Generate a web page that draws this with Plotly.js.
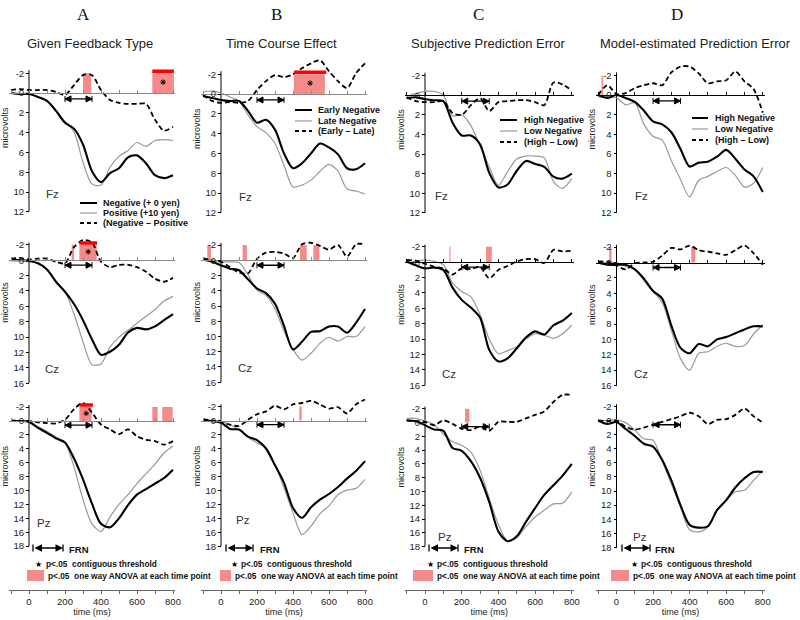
<!DOCTYPE html>
<html><head><meta charset="utf-8">
<script src="https://cdn.plot.ly/plotly-3.0.1.min.js"></script>
<style>html,body{margin:0;padding:0;background:#fff}#chart{width:800px;height:620px}</style>
</head><body><div id="chart"></div>
<script>
// ---------------- DATA ----------------
const times = [-100,-50,0,50,100,150,200,250,300,350,400,450,500,550,600,650,700,750,800];

const columnLetters = ['A','B','C','D'];
const columnTitles = ['Given Feedback Type','Time Course Effect','Subjective Prediction Error','Model-estimated Prediction Error'];
const electrodes = ['Fz','Cz','Pz'];
const legendA = ['Negative (+ 0 yen)','Positive (+10 yen)','(Negative \u2013 Positive'];
const legendB = ['Early Negative','Late Negative','(Early \u2013 Late)'];
const legendC = ['High Negative','Low Negative','(High \u2013 Low)'];
const legendD = ['High Negative','Low Negative','(High \u2013 Low)'];
const frnWindow = [200, 350];
const yTicksFz = [-2,0,2,4,6,8,10,12];
const yTicksCz = [-2,0,2,4,6,8,10,12,14,16];
const yTicksPz = [-2,0,2,4,6,8,10,12,14,16,18];
const timeTickVals = [-100,0,100,200,300,400,500,600,700,800];
const timeTickLabels = ['','0','','200','','400','','600','','800'];

// Column A
const aFzSolid = [0,0.1,0.1,0.4,0.8,1.8,3.0,3.6,5.2,7.9,9.0,8.1,7.6,6.5,6.3,7.1,8.3,8.6,8.3];
const aFzGray  = [0,0.1,0.1,0.4,0.8,1.7,2.9,3.9,7.0,9.2,9.3,7.5,6.4,5.8,5.0,5.4,4.8,4.7,4.8];
const aFzDash  = [-0.3,-0.4,-0.3,-0.3,-0.3,-0.1,0.2,-0.8,-1.8,-1.8,-0.3,0.7,1.0,1.1,1.1,1.1,2.7,3.8,3.4];
const aCzSolid = [0,0,0.1,0.4,1.2,2.8,4.1,5.7,7.8,10.3,12.3,11.9,11.0,9.4,8.8,9.0,8.6,7.8,7.0];
const aCzGray  = [0,0,0.1,0.4,1.2,2.8,4.1,7.0,10.6,13.6,13.5,11.3,10.0,9.1,8.2,7.3,6.4,5.3,4.7];
const aCzDash  = [-0.2,-0.3,-0.1,-0.2,-0.2,0.2,0.4,-1.7,-2.6,-2.3,0.2,0.9,0.6,0.6,0.9,1.5,2.4,2.8,2.3];
const aPzSolid = [0,0,0.1,1.0,1.7,2.5,3.1,5.4,8.4,11.9,14.8,15.3,14.0,12.1,10.6,9.8,9.0,8.2,7.0];
const aPzGray  = [0,0,0.1,0.8,1.5,2.3,3.1,6.6,11.3,14.8,15.9,13.8,12.0,10.6,9.0,7.6,6.2,4.6,3.6];
const aPzDash  = [-0.1,0,0,0.2,0.3,0.35,-0.2,-1.7,-2.6,-1.2,0.5,1.2,1.9,1.2,2.2,2.7,2.9,3.4,2.9];
// Column B
const bFzSolid = [0.2,0.4,0.6,0.7,0.7,1.7,2.9,2.6,3.6,6.0,7.5,7.0,6.0,5.0,5.4,6.1,7.5,7.6,7.0];
const bFzGray  = [-0.2,-0.3,-0.1,0.3,0.7,2.1,3.3,3.9,5.0,7.2,9.4,9.2,8.7,7.8,7.1,7.8,9.6,9.8,10.1];
const bFzDash  = [0.1,0.7,0.9,0.8,0.9,0.7,-0.4,-1.3,-1.9,-1.7,-2.0,-2.6,-3.1,-3.4,-2.3,-1.3,-0.6,-2.1,-3.1];
const bCzSolid = [-0.1,0.2,0.65,1.1,1.3,2.5,3.7,4.3,5.7,8.6,11.7,10.7,9.4,9.3,8.7,8.7,9.5,8.2,6.4];
const bCzGray  = [0,0,0.2,0.2,0.3,1.9,3.9,4.6,6.4,9.3,11.7,13.1,12.2,10.9,10.1,10.6,10.0,10.0,8.7];
const bCzDash  = [-0.3,0,0.2,0.9,1.6,1.7,-0.2,-1.0,-1.1,-0.9,-0.3,-2.1,-2.3,-1.9,-1.4,-2.0,-0.5,-2.1,-2.1];
const bPzSolid = [-0.1,0.1,0.3,1.2,1.3,2.3,2.8,4.0,6.4,8.9,12.5,13.9,12.4,11.3,10.5,9.5,8.3,7.2,5.8];
const bPzGray  = [0,0,0.1,0.6,1.3,2.4,3.2,3.9,6.3,9.6,13.2,16.3,15.1,13.3,12.2,10.6,9.95,9.7,8.4];
const bPzDash  = [-0.2,0,0.3,0.6,0.8,-0.1,-0.9,-1.3,-2.1,-1.6,-2.3,-2.5,-2.8,-2.3,-1.7,-1.9,-1.0,-2.3,-3.0];
// Column C
const cFzSolid = [0.3,0.2,0.4,0.5,0.6,2.8,4.1,4.1,5.0,7.9,9.4,9.1,7.7,6.7,7.0,7.3,8.3,8.5,8.0];
const cFzGray  = [0.1,-0.2,-0.4,-0.4,0.0,2.1,2.0,3.1,5.2,7.3,9.2,7.8,6.5,6.2,6.2,6.4,8.8,9.5,8.5];
const cFzDash  = [0.2,0.6,0.7,0.7,0.6,1.8,2.0,1.0,0.3,1.6,0.7,0.6,0.5,0.5,0.7,1.0,-1.3,-1.1,-0.5];
const cCzSolid = [-0.1,0.4,0.8,0.7,1.0,3.3,4.9,5.9,7.2,11.4,12.9,12.5,11.2,9.8,9.0,9.4,8.2,7.6,6.6];
const cCzGray  = [0.1,-0.1,-0.3,-0.1,0.3,2.7,3.8,4.5,6.8,10.0,11.9,11.5,11.0,10.0,9.3,9.5,9.9,9.3,8.2];
const cCzDash  = [-0.3,-0.2,0.2,0.6,0.8,1.6,0.8,0.9,0.6,2.1,1.0,0.5,-0.1,-0.4,-0.4,0.1,-1.6,-1.4,-1.5];
const cPzSolid = [-0.3,-0.2,0.4,1.0,1.2,3.7,4.1,5.6,8.0,11.5,15.8,17.2,16.5,14.4,12.4,10.5,9.1,7.7,6.0];
const cPzGray  = [-0.6,-0.6,-0.2,0.3,1.7,2.8,3.3,4.3,6.9,11.0,14.8,17.2,16.7,15.1,13.7,12.7,11.8,11.7,10.1];
const cPzDash  = [-0.3,-0.2,-0.1,0.4,-0.3,0.2,0.9,1.1,0.6,1.2,-0.1,-0.1,-0.1,-0.6,-1.1,-1.6,-3.0,-4.0,-4.0];
// Column D
const dFzSolid = [0,0.3,0.0,0.3,0.7,1.6,2.7,3.0,3.8,5.5,7.3,6.9,6.8,6.3,5.6,6.5,7.6,8.3,9.9];
const dFzGray  = [0.2,0.2,0.3,1.0,0.8,3.0,4.2,4.6,6.7,8.6,10.4,8.7,8.3,7.8,7.4,8.2,9.4,9.0,7.4];
const dFzDash  = [0,-1.0,-0.1,-0.2,-0.7,-1.0,-1.2,-1.0,-2.3,-2.9,-2.9,-2.2,-1.2,-1.4,-1.5,-2.4,-1.4,-0.6,1.8];
const dCzSolid = [0,0.3,0.3,0.3,0.9,2.1,3.7,4.7,8.2,11.1,11.8,10.6,10.9,10.0,9.7,9.2,8.7,8.3,8.3];
const dCzGray  = [0,0,0,0.5,0.8,2.4,3.8,5.2,8.8,12.5,14.0,11.8,11.6,10.9,10.5,10.9,10.8,9.3,8.1];
const dCzDash  = [-0.1,-0.1,0.4,0.9,0.1,0.0,-0.1,-0.9,-1.9,-1.7,-2.2,-1.6,-1.4,-1.2,-1.0,-1.6,-2.2,-1.2,0.3];
const dPzSolid = [0,0.5,0.2,1.2,2.2,3.3,3.7,5.6,8.5,12.0,14.8,15.2,15.0,12.7,11.3,9.5,8.2,7.3,7.3];
const dPzGray  = [0,0,-0.1,0.3,1.4,2.6,2.8,5.8,9.0,12.3,15.5,15.8,15.1,12.8,11.3,10.1,9.9,8.5,7.1];
const dPzDash  = [0,0.1,0.0,0.9,1.3,1.0,0.6,0.2,-0.2,-0.6,-1.1,-0.6,0.5,-0.1,-0.2,-0.8,-1.7,-0.6,0.3];

// significance windows (ms): ANOVA each time point (pink) and contiguous threshold (red + star)
const aFzSigStart = [300,685], aFzSigEnd = [345,805], aFzConStart = [685], aFzConEnd = [805];
const aCzSigStart = [237,280], aCzSigEnd = [250,376], aCzConStart = [280], aCzConEnd = [378];
const aPzSigStart = [280,685,740], aPzSigEnd = [348,715,798], aPzConStart = [280], aPzConEnd = [355];
const bFzSigStart = [405], bFzSigEnd = [577], bFzConStart = [405], bFzConEnd = [585];
const bCzSigStart = [-76,120,439,513], bCzSigEnd = [-56,144,476,546];
const bPzSigStart = [435], bPzSigEnd = [448];
const cCzSigStart = [133,333], cCzSigEnd = [139,364];
const cPzSigStart = [218], cPzSigEnd = [242];
const dFzSigStart = [-82], dFzSigEnd = [-74];
const dCzSigStart = [-40,409], dCzSigEnd = [-27,431];
const sigLevel = -2;

// ---------------- LAYOUT GEOMETRY (pixels) ----------------
const W = 800, H = 620;
const NARROW = '"Liberation Sans Narrow","Arial Narrow","Liberation Sans",Arial,sans-serif';
const SANS = '"Liberation Sans",Arial,sans-serif';
const SERIF = '"Liberation Serif","Times New Roman",serif';
const PINK = '#f58a8a';
const colGeom = [{x0:29,s:0.18},{x0:221,s:0.18},{x0:425,s:0.1835},{x0:616.5,s:0.1828}];
const panelY = [[[93,9.9],[260.2,7.69],[421,6.95]],[[94,9.9],[260.3,7.62],[420.5,7.0]],
                [[95.3,9.8],[262.2,7.69],[422.5,6.9]],[[95,9.8],[262.5,7.69],[420.5,7.05]]];
const rowMax = [12,16,18];
const rowTicks = [yTicksFz, yTicksCz, yTicksPz];
const TOP = -5, XMIN = -110, XMAX = 810;
const conLevel = [-2.2,-2.25,-2.3];
const frnLevel = [0.6,0.65,0.6];
const zeroLineColor = ['#888','#888','#000','#000'];
const px2x = p => p / W;
const py2y = p => 1 - p / H;

const E = [];
const panels = [
 {c:0,r:0,s:aFzSolid,g:aFzGray,d:aFzDash,ss:aFzSigStart,se:aFzSigEnd,cs:aFzConStart,ce:aFzConEnd},
 {c:0,r:1,s:aCzSolid,g:aCzGray,d:aCzDash,ss:aCzSigStart,se:aCzSigEnd,cs:aCzConStart,ce:aCzConEnd},
 {c:0,r:2,s:aPzSolid,g:aPzGray,d:aPzDash,ss:aPzSigStart,se:aPzSigEnd,cs:aPzConStart,ce:aPzConEnd},
 {c:1,r:0,s:bFzSolid,g:bFzGray,d:bFzDash,ss:bFzSigStart,se:bFzSigEnd,cs:bFzConStart,ce:bFzConEnd},
 {c:1,r:1,s:bCzSolid,g:bCzGray,d:bCzDash,ss:bCzSigStart,se:bCzSigEnd,cs:E,ce:E},
 {c:1,r:2,s:bPzSolid,g:bPzGray,d:bPzDash,ss:bPzSigStart,se:bPzSigEnd,cs:E,ce:E},
 {c:2,r:0,s:cFzSolid,g:cFzGray,d:cFzDash,ss:E,se:E,cs:E,ce:E},
 {c:2,r:1,s:cCzSolid,g:cCzGray,d:cCzDash,ss:cCzSigStart,se:cCzSigEnd,cs:E,ce:E},
 {c:2,r:2,s:cPzSolid,g:cPzGray,d:cPzDash,ss:cPzSigStart,se:cPzSigEnd,cs:E,ce:E,noZero:true},
 {c:3,r:0,s:dFzSolid,g:dFzGray,d:dFzDash,ss:dFzSigStart,se:dFzSigEnd,cs:E,ce:E},
 {c:3,r:1,s:dCzSolid,g:dCzGray,d:dCzDash,ss:dCzSigStart,se:dCzSigEnd,cs:E,ce:E},
 {c:3,r:2,s:dPzSolid,g:dPzGray,d:dPzDash,ss:E,se:E,cs:E,ce:E,noZero:true}
];

const data = [];
const layout = {
  width: W, height: H, margin:{l:0,r:0,t:0,b:0},
  paper_bgcolor:'#fff', plot_bgcolor:'rgba(0,0,0,0)', showlegend:false,
  hovermode:false, font:{family:SANS, color:'#222'}, shapes:[], annotations:[]
};
const colXDomain = c => [px2x(colGeom[c].x0 + XMIN*colGeom[c].s), px2x(colGeom[c].x0 + XMAX*colGeom[c].s)];

panels.forEach((p, i) => {
  const k = i + 1;
  const xs = k === 1 ? 'x' : 'x' + k, ys = k === 1 ? 'y' : 'y' + k;
  const xn = k === 1 ? 'xaxis' : 'xaxis' + k, yn = k === 1 ? 'yaxis' : 'yaxis' + k;
  const cg = colGeom[p.c];
  const [z, ps] = panelY[p.c][p.r];
  const ymax = rowMax[p.r];
  const zc = zeroLineColor[p.c];
  layout[xn] = {
    domain: colXDomain(p.c), range:[XMIN, XMAX], anchor:'free', position: py2y(z), side:'top',
    showline: !p.noZero, linecolor: zc, linewidth: 1,
    ticks: p.noZero ? '' : 'outside', ticklen: 3, tickcolor: zc,
    tickvals: timeTickVals, showticklabels:false, showgrid:false, zeroline:false
  };
  layout[yn] = {
    domain:[py2y(z + ymax*ps), py2y(z + TOP*ps)], range:[ymax, TOP],
    anchor:'free', position: px2x(cg.x0), side:'left', showline:false,
    ticks:'outside', ticklen:3, tickcolor:'#000', tickwidth:1,
    tickvals: rowTicks[p.r], ticktext: rowTicks[p.r].map(String),
    tickfont:{family:NARROW, size:9.5, color:'#222'},
    title:{text:'microvolts', font:{family:SANS, size:9, color:'#222'}, standoff:2},
    showgrid:false, zeroline:false
  };
  const base = {xaxis: xs, yaxis: ys, hoverinfo:'skip'};
  if (p.ss.length) {
    data.push(Object.assign({type:'bar',
      x: p.ss.map((s, j) => (s + p.se[j]) / 2),
      width: p.ss.map((s, j) => p.se[j] - s),
      y: p.ss.map(() => sigLevel), base: p.ss.map(() => 0),
      marker:{color:PINK, line:{width:0}}}, base));
  }
  // vertical axis line
  data.push(Object.assign({type:'scatter', mode:'lines', x:[0,0], y:[rowTicks[p.r][0]-0.3, ymax],
    line:{color:'#000', width:1}}, base));
  data.push(Object.assign({type:'scatter', mode:'lines', x:times, y:p.g,
    line:{color:'#999', width:1.2, shape:'spline', smoothing:0.8}}, base));
  data.push(Object.assign({type:'scatter', mode:'lines', x:times, y:p.s,
    line:{color:'#000', width:2.1, shape:'spline', smoothing:0.8}}, base));
  data.push(Object.assign({type:'scatter', mode:'lines', x:times, y:p.d,
    line:{color:'#000', width:1.8, dash:'5px,3px', shape:'spline', smoothing:0.8}}, base));
  if (p.cs.length) {
    const rx = [], ry = [];
    p.cs.forEach((s, j) => { rx.push(s, p.ce[j], null); ry.push(conLevel[p.r], conLevel[p.r], null); });
    data.push(Object.assign({type:'scatter', mode:'lines', x:rx, y:ry, line:{color:'#ff0000', width:3.5}}, base));
    data.push(Object.assign({type:'scatter', mode:'markers',
      x: p.cs.map((s, j) => (s + p.ce[j]) / 2), y: p.cs.map(() => -1.1),
      marker:{symbol:'asterisk-open', size:4.5, color:'#000', line:{color:'#000', width:1}}}, base));
  }
  data.push(Object.assign({type:'scatter', mode:'lines+markers', x:frnWindow, y:[frnLevel[p.r], frnLevel[p.r]],
    line:{color:'#000', width:1.3},
    marker:{symbol:['arrow-bar-left','arrow-bar-right'], size:6, color:'#000', line:{color:'#000', width:1}}}, base));
});

// bottom time axes
for (let c = 0; c < 4; c++) {
  const k = 13 + c;
  layout['xaxis' + k] = {
    domain: colXDomain(c), range:[XMIN, XMAX], anchor:'y' + k, side:'bottom',
    showline:true, linecolor:'#666', linewidth:1, ticks:'outside', ticklen:3, tickcolor:'#666',
    tickvals: timeTickVals, ticktext: timeTickLabels,
    tickfont:{family:NARROW, size:9.5, color:'#222'},
    title:{text:'time (ms)', font:{family:NARROW, size:9, color:'#222'}, standoff:1},
    showgrid:false, zeroline:false
  };
  layout['yaxis' + k] = {domain:[py2y(590), py2y(586)], anchor:'x' + k, visible:false, range:[0,1]};
  data.push({type:'scatter', mode:'lines', x:[], y:[], xaxis:'x' + k, yaxis:'y' + k, hoverinfo:'skip'});
}

// ---------------- TEXT & LEGENDS ----------------
const ann = layout.annotations, shp = layout.shapes;
const headerX = [83, 276, 478, 677];
const titleX = [90, 281, 488, 695];
columnLetters.forEach((t, c) => {
  ann.push({xref:'paper', yref:'paper', x:px2x(headerX[c]), y:py2y(15), text:t, showarrow:false,
    xanchor:'center', yanchor:'middle', font:{family:SERIF, size:17, color:'#111'}});
  ann.push({xref:'paper', yref:'paper', x:px2x(titleX[c]), y:py2y(44), text:columnTitles[c], showarrow:false,
    xanchor:'center', yanchor:'middle', font:{family:SANS, size:13, color:'#222'}});
});
const elecPos = [[[52,194],[52,369],[44,523]],[[245,197],[245,368],[243,520]],
                 [[441,196],[449,374],[445,537]],[[641,196],[641,374],[640,537]]];
elecPos.forEach((col, c) => col.forEach((pp, r) => {
  ann.push({xref:'paper', yref:'paper', x:px2x(pp[0]), y:py2y(pp[1]), text:electrodes[r], showarrow:false,
    xanchor:'center', yanchor:'middle', font:{family:SANS, size:11.5, color:'#333'}});
}));
// line legends
const legTexts = [legendA, legendB, legendC, legendD];
const legGeom = [{x:[80,97], t:101, y:[203,213,223]}, {x:[295,312], t:316, y:[110,121,131]},
                 {x:[500,517], t:522, y:[120,131,142]}, {x:[692,708], t:713, y:[118,129,140]}];
const legStyles = [{color:'#000', width:2}, {color:'#999', width:1.2}, {color:'#000', width:1.8, dash:'4px,3px'}];
legGeom.forEach((g, c) => {
  g.y.forEach((yy, j) => {
    shp.push({type:'line', xref:'paper', yref:'paper', x0:px2x(g.x[0]), x1:px2x(g.x[1]), y0:py2y(yy), y1:py2y(yy), line:legStyles[j]});
    ann.push({xref:'paper', yref:'paper', x:px2x(g.t), y:py2y(yy), text:legTexts[c][j], showarrow:false,
      xanchor:'left', yanchor:'middle', font:{family:NARROW, size:9, color:'#111', weight:'bold'}});
  });
});
// bottom legends (FRN, contiguous threshold, ANOVA)
const botLeg = [{a:[33,63], frn:67, star:38, st:44, sq:[27,44], sqt:46},
                {a:[226,253], frn:258, star:234, st:239, sq:[220,231], sqt:233},
                {a:[429,458], frn:462, star:430, st:435, sq:[413,433], sqt:435},
                {a:[622,650], frn:653, star:634, st:639, sq:[611,629], sqt:631}];
const boldTxt = {family:NARROW, size:8.3, color:'#111', weight:'bold'};
botLeg.forEach(b => {
  ann.push({xref:'paper', yref:'paper', x:px2x(b.a[1]), y:py2y(548), ax:-(b.a[1]-b.a[0]), ay:0, text:'',
    showarrow:true, arrowside:'end+start', arrowhead:2, arrowsize:1, arrowwidth:1.5, arrowcolor:'#000'});
  b.a.forEach(xx => shp.push({type:'line', xref:'paper', yref:'paper', x0:px2x(xx), x1:px2x(xx), y0:py2y(544.5), y1:py2y(551.5), line:{color:'#000', width:1.3}}));
  ann.push({xref:'paper', yref:'paper', x:px2x(b.frn), y:py2y(549), text:'FRN', showarrow:false, xanchor:'left', yanchor:'middle', font:{family:NARROW, size:9.5, color:'#111', weight:'bold'}});
  ann.push({xref:'paper', yref:'paper', x:px2x(b.star), y:py2y(564), text:'\u2605', showarrow:false, xanchor:'center', yanchor:'middle', font:{family:'DejaVu Sans', size:8, color:'#000'}});
  ann.push({xref:'paper', yref:'paper', x:px2x(b.st), y:py2y(564), text:'p&lt;.05\u00a0 contiguous threshold', showarrow:false, xanchor:'left', yanchor:'middle', font:boldTxt});
  shp.push({type:'rect', xref:'paper', yref:'paper', x0:px2x(b.sq[0]), x1:px2x(b.sq[1]), y0:py2y(581), y1:py2y(570), fillcolor:PINK, line:{width:0}});
  ann.push({xref:'paper', yref:'paper', x:px2x(b.sqt), y:py2y(576), text:'p&lt;.05\u00a0 one way ANOVA at each time point', showarrow:false, xanchor:'left', yanchor:'middle', font:boldTxt});
});

Plotly.newPlot('chart', data, layout, {staticPlot:true, displayModeBar:false});
</script>
</body></html>
